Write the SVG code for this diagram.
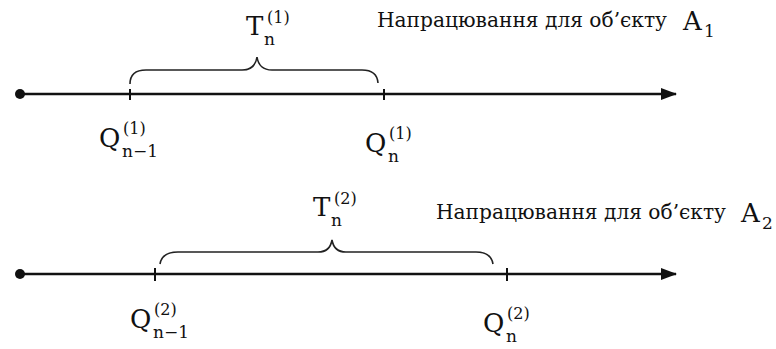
<svg xmlns="http://www.w3.org/2000/svg" width="776" height="349" viewBox="0 0 776 349">
<style>
.ax{stroke:#111;stroke-width:2.5;fill:none}
.tk{stroke:#111;stroke-width:2;fill:none}
.br{stroke:#222;stroke-width:1.6;fill:none}
.t{font-family:'DejaVu Serif',serif;fill:#111}
.lab{font-size:21px}
.big{font-size:26px}
.sub{font-size:17px}
.sup{font-size:16px}
</style>
<defs>
<marker id="ah" markerWidth="16" markerHeight="12" refX="15" refY="6" orient="auto" markerUnits="userSpaceOnUse">
<path d="M0,0 L16,6 L0,12 Z" fill="#111"/>
</marker>
</defs>
<g id="connectors">
<line class="ax" x1="20" y1="94" x2="676" y2="94" marker-end="url(#ah)"/>
<line class="ax" x1="20" y1="274" x2="676" y2="274" marker-end="url(#ah)"/>
<path class="br" d="M130,84 Q130,70 146,70 L242,70 Q255,70 257,57 Q259,70 272,70 L362,70 Q377,70 378,83"/>
<path class="br" d="M160,264 Q162,252 178,252 L318,252 Q330,252 332,240 Q334,252 346,252 L476,252 Q491,252 493,264"/>
</g>
<g id="origin1"><circle cx="20" cy="94" r="5" fill="#111"/></g>
<g id="origin2"><circle cx="20" cy="274" r="5" fill="#111"/></g>
<g id="q1prev">
<line class="tk" x1="130" y1="89" x2="130" y2="100"/>
<text class="t big" x="99" y="147">Q</text>
<text class="t sub" x="122" y="157">n−1</text>
<text class="t sup" x="123" y="134">(1)</text>
</g>
<g id="q1">
<line class="tk" x1="384" y1="89" x2="384" y2="100"/>
<text class="t big" x="365" y="152">Q</text>
<text class="t sub" x="388" y="162">n</text>
<text class="t sup" x="389" y="139">(1)</text>
</g>
<g id="t1">
<text class="t big" x="246" y="35">T</text>
<text class="t sub" x="264" y="45">n</text>
<text class="t sup" x="267" y="23">(1)</text>
</g>
<g id="title1">
<text class="t lab" x="377" y="27" textLength="290" lengthAdjust="spacingAndGlyphs">Напрацювання для об’єкту</text>
<text class="t big" x="683" y="30">A</text>
<text class="t sub" x="704" y="37">1</text>
</g>
<g id="q2prev">
<line class="tk" x1="155" y1="268" x2="155" y2="281"/>
<text class="t big" x="130" y="328">Q</text>
<text class="t sub" x="153" y="338">n−1</text>
<text class="t sup" x="154" y="315">(2)</text>
</g>
<g id="q2">
<line class="tk" x1="507" y1="268" x2="507" y2="281"/>
<text class="t big" x="483" y="332">Q</text>
<text class="t sub" x="506" y="342">n</text>
<text class="t sup" x="507" y="319">(2)</text>
</g>
<g id="t2">
<text class="t big" x="313" y="216">T</text>
<text class="t sub" x="331" y="226">n</text>
<text class="t sup" x="334" y="204">(2)</text>
</g>
<g id="title2">
<text class="t lab" x="436" y="219" textLength="290" lengthAdjust="spacingAndGlyphs">Напрацювання для об’єкту</text>
<text class="t big" x="741" y="222">A</text>
<text class="t sub" x="762" y="229">2</text>
</g>
</svg>
